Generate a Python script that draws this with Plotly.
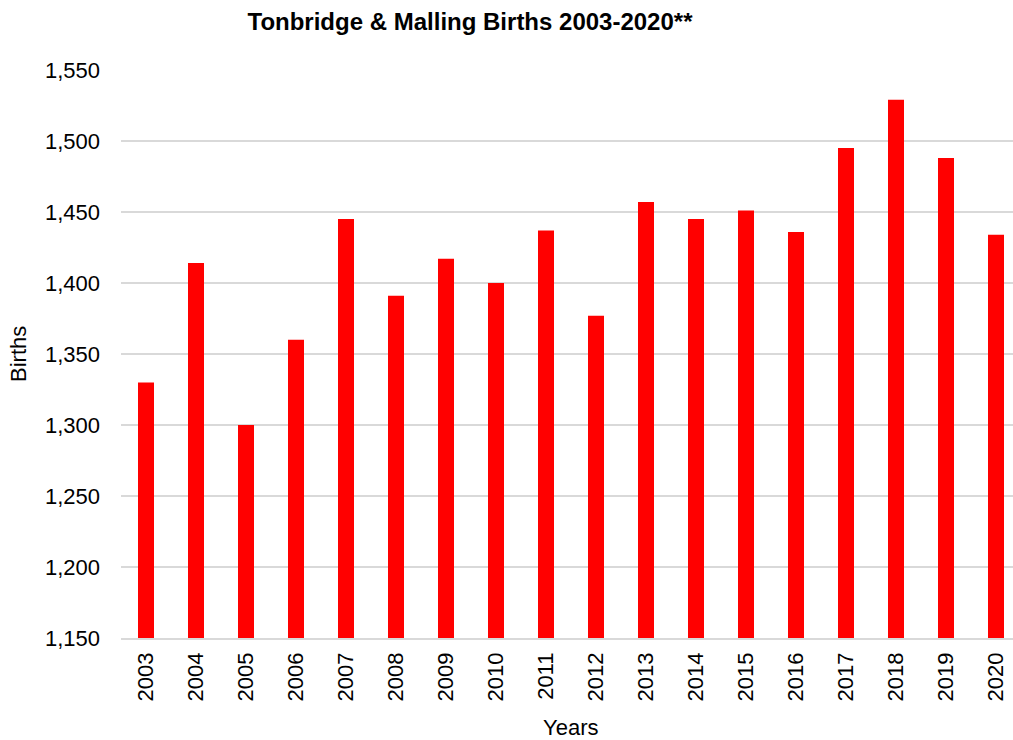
import plotly.graph_objects as go

years = ["2003", "2004", "2005", "2006", "2007", "2008", "2009", "2010", "2011",
         "2012", "2013", "2014", "2015", "2016", "2017", "2018", "2019", "2020"]
births = [1330, 1414, 1300, 1360, 1445, 1391, 1417, 1400, 1437,
          1377, 1457, 1445, 1451, 1436, 1495, 1529, 1488, 1434]

y_ticks = [1150, 1200, 1250, 1300, 1350, 1400, 1450, 1500, 1550]

FONT = "Liberation Sans, Arial, sans-serif"

fig = go.Figure()

fig.add_trace(
    go.Bar(
        x=years,
        y=births,
        marker=dict(color="#ff0000", line=dict(width=0)),
        width=0.32,
    )
)

fig.update_xaxes(
    type="category",
    range=[-0.5, 17.34],
    tickangle=-90,
    tickfont=dict(size=22, color="#000000", family=FONT),
    showgrid=False,
    showline=True,
    linecolor="#d9d9d9",
    linewidth=1.5,
    ticks="",
    ticklabelstandoff=4,
)

fig.update_yaxes(
    range=[1150, 1550],
    tickvals=y_ticks,
    tickformat=",",
    tickfont=dict(size=22, color="#000000", family=FONT),
    showgrid=True,
    gridcolor="#d9d9d9",
    gridwidth=1.5,
    zeroline=False,
    ticks="",
    ticklabelstandoff=20,
)

# axis titles placed by hand to match the original layout
fig.add_annotation(
    text="Births", xref="paper", yref="paper", x=(18 - 121) / 892, y=0.5,
    textangle=-90, showarrow=False, xanchor="center", yanchor="middle",
    font=dict(size=22, color="#000000", family=FONT),
)
fig.add_annotation(
    text="Years", xref="paper", yref="paper", x=(570 - 121) / 892, y=-(727 - 638) / 568,
    showarrow=False, xanchor="center", yanchor="middle",
    font=dict(size=22, color="#000000", family=FONT),
)

fig.update_layout(
    title=dict(
        text="<b>Tonbridge & Malling Births 2003-2020**</b>",
        x=470 / 1013,
        xanchor="center",
        xref="container",
        y=1 - 22 / 740,
        yanchor="middle",
        yref="container",
        font=dict(size=24, color="#000000", family=FONT),
    ),
    width=1013,
    height=740,
    margin=dict(l=121, r=0, t=70, b=102),
    plot_bgcolor="#ffffff",
    paper_bgcolor="#ffffff",
    showlegend=False,
)

fig.write_html(
    "out.html",
    config={"displayModeBar": False},
    post_script="document.body.style.margin='0';document.body.style.overflow='hidden';",
)
